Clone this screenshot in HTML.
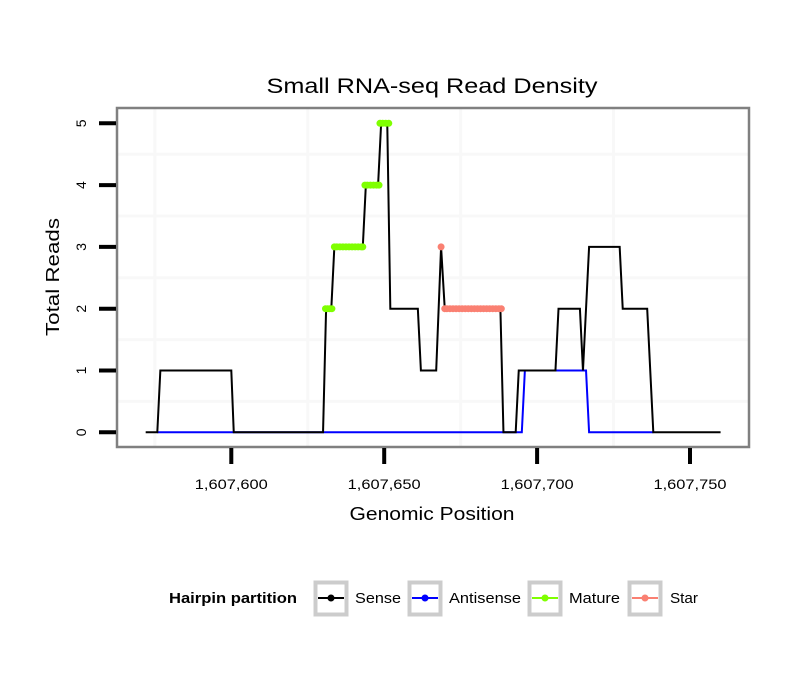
<!DOCTYPE html>
<html><head><meta charset="utf-8"><style>
body{margin:0;background:#fff;}
svg text{font-family:"Liberation Sans",sans-serif;}
</style></head><body>
<svg id="chart" width="810" height="690" xmlns="http://www.w3.org/2000/svg">
<rect width="810" height="690" fill="#fff"/>
<text x="432" y="93" font-size="21" text-anchor="middle" textLength="331" lengthAdjust="spacingAndGlyphs">Small RNA-seq Read Density</text>
<g id="grid"></g>
<g id="series"></g>
<rect x="117" y="108" width="632" height="339" fill="none" stroke="#808080" stroke-width="2.5"/>
<g id="axes"></g>
<text x="432" y="520" font-size="18" text-anchor="middle" textLength="165" lengthAdjust="spacingAndGlyphs">Genomic Position</text>
<text x="0" y="0" font-size="18" text-anchor="middle" textLength="118" lengthAdjust="spacingAndGlyphs" transform="translate(59,277) rotate(-90)">Total Reads</text>
<g>
<text x="169" y="603" font-size="14.5" font-weight="bold" textLength="128" lengthAdjust="spacingAndGlyphs">Hairpin partition</text>
<g>
<rect x="315.5" y="582.5" width="31" height="32" fill="#fff" stroke="#ccc" stroke-width="4"/>
<line x1="318" y1="598" x2="344" y2="598" stroke="#000" stroke-width="2"/><circle cx="331" cy="598" r="3.5" fill="#000"/>
<text x="355" y="603" font-size="15" textLength="46" lengthAdjust="spacingAndGlyphs">Sense</text></g>
<g>
<rect x="409.5" y="582.5" width="31" height="32" fill="#fff" stroke="#ccc" stroke-width="4"/>
<line x1="412" y1="598" x2="438" y2="598" stroke="#0000ff" stroke-width="2"/><circle cx="425" cy="598" r="3.5" fill="#0000ff"/>
<text x="449" y="603" font-size="15" textLength="72" lengthAdjust="spacingAndGlyphs">Antisense</text></g>
<g>
<rect x="529.5" y="582.5" width="31" height="32" fill="#fff" stroke="#ccc" stroke-width="4"/>
<line x1="532" y1="598" x2="558" y2="598" stroke="#7fff00" stroke-width="2"/><circle cx="545" cy="598" r="3.5" fill="#7fff00"/>
<text x="569" y="603" font-size="15" textLength="51" lengthAdjust="spacingAndGlyphs">Mature</text></g>
<g>
<rect x="629.5" y="582.5" width="31" height="32" fill="#fff" stroke="#ccc" stroke-width="4"/>
<line x1="632" y1="598" x2="658" y2="598" stroke="#fa8072" stroke-width="2"/><circle cx="645" cy="598" r="3.5" fill="#fa8072"/>
<text x="670" y="603" font-size="15" textLength="28" lengthAdjust="spacingAndGlyphs">Star</text></g>
</g>
</svg>
<script>
const BASE = 1607600;
const xTicks = [1607600, 1607650, 1607700, 1607750];
const xTickLabels = ["1,607,600", "1,607,650", "1,607,700", "1,607,750"];
const yTicks = [0, 1, 2, 3, 4, 5];
const xGrid = [1607575, 1607625, 1607675, 1607725];
const yGrid = [0.5, 1.5, 2.5, 3.5, 4.5];
const senseX = [-28, -24.2, -23.2, 0, 0.8, 30, 31, 32.7, 33.7, 43, 44, 48, 49, 51, 52, 61, 62, 67, 68.6, 69.8, 88, 89, 93, 94, 106, 107, 114, 115, 117, 127, 128, 136, 138, 160];
const senseY = [0, 0, 1, 1, 0, 0, 2, 2, 3, 3, 4, 4, 5, 5, 2, 2, 1, 1, 3, 2, 2, 0, 0, 1, 1, 2, 2, 1, 3, 3, 2, 2, 0, 0];
const antiX = [-24.2, 95, 96, 116, 117, 138];
const antiY = [0, 0, 1, 1, 0, 0];
const matureX = [30.8,31.5,32.2,32.9,33.7,34.5,35.5,36.5,37.5,38.5,39.5,40.5,41.5,42.5,43,43.7,44.5,45.5,46.5,47.5,48.3,48.6,49.5,50.5,51.5];
const matureY = [2,2,2,2,3,3,3,3,3,3,3,3,3,3,3,4,4,4,4,4,4,5,5,5,5];
const starX = [68.6,69.8,70.5,71.5,72.5,73.5,74.5,75.5,76.5,77.5,78.5,79.5,80.5,81.5,82.5,83.5,84.5,85.5,86.5,87.5,88.3];
const starY = [3,2,2,2,2,2,2,2,2,2,2,2,2,2,2,2,2,2,2,2,2];

const NS = "http://www.w3.org/2000/svg";
function sx(v){ return 231.3 + (v - BASE) * 3.058; }
function sxu(u){ return sx(BASE + u); }
function sy(v){ return 432.3 - v * 61.8; }
function mk(tag, attrs, parent){ const e = document.createElementNS(NS, tag); for (const k in attrs) e.setAttribute(k, attrs[k]); parent.appendChild(e); return e; }

const grid = document.getElementById('grid');
xGrid.forEach(v => {
  const l = mk('line', {x1: sx(v), x2: sx(v), y1: 109, y2: 446, stroke: '#f8f8f8', 'stroke-width': 3}, grid);
  
  
});
yGrid.forEach(v => {
  const l = mk('line', {x1: 118, x2: 748, y1: sy(v), y2: sy(v), stroke: '#f8f8f8', 'stroke-width': 3}, grid);
  
  
});

const series = document.getElementById('series');
function pathOf(xs, ys){ return xs.map((x, i) => (i ? 'L' : 'M') + sxu(x).toFixed(2) + ' ' + sy(ys[i]).toFixed(2)).join(' '); }
const pa = mk('path', {d: pathOf(antiX, antiY), fill: 'none', stroke: '#0000ff', 'stroke-width': 2}, series);


const ps = mk('path', {d: pathOf(senseX, senseY), fill: 'none', stroke: '#000', 'stroke-width': 2}, series);


matureX.forEach((x, i) => {
  const c = mk('circle', {cx: sxu(x), cy: sy(matureY[i]), r: 3.5, fill: '#7fff00'}, series);
  
  
});
starX.forEach((x, i) => {
  const c = mk('circle', {cx: sxu(x), cy: sy(starY[i]), r: 3.5, fill: '#fa8072'}, series);
  
  
});

const axes = document.getElementById('axes');
xTicks.forEach((v, i) => {
  const t = mk('line', {x1: sx(v), x2: sx(v), y1: 448, y2: 464, stroke: '#000', 'stroke-width': 4}, axes);
  
  
  const tx = mk('text', {x: sx(v), y: 489, 'font-size': 14, 'text-anchor': 'middle', textLength: 73, lengthAdjust: 'spacingAndGlyphs'}, axes);
  tx.textContent = xTickLabels[i];
  
  
});
yTicks.forEach(v => {
  const t = mk('line', {x1: 99, x2: 116, y1: sy(v), y2: sy(v), stroke: '#000', 'stroke-width': 4}, axes);
  
  
  const tx = mk('text', {x: 0, y: 0, 'font-size': 14, 'text-anchor': 'middle', transform: 'translate(86,' + sy(v) + ') rotate(-90)'}, axes);
  tx.textContent = v;
  
  
});
</script>
</body></html>
